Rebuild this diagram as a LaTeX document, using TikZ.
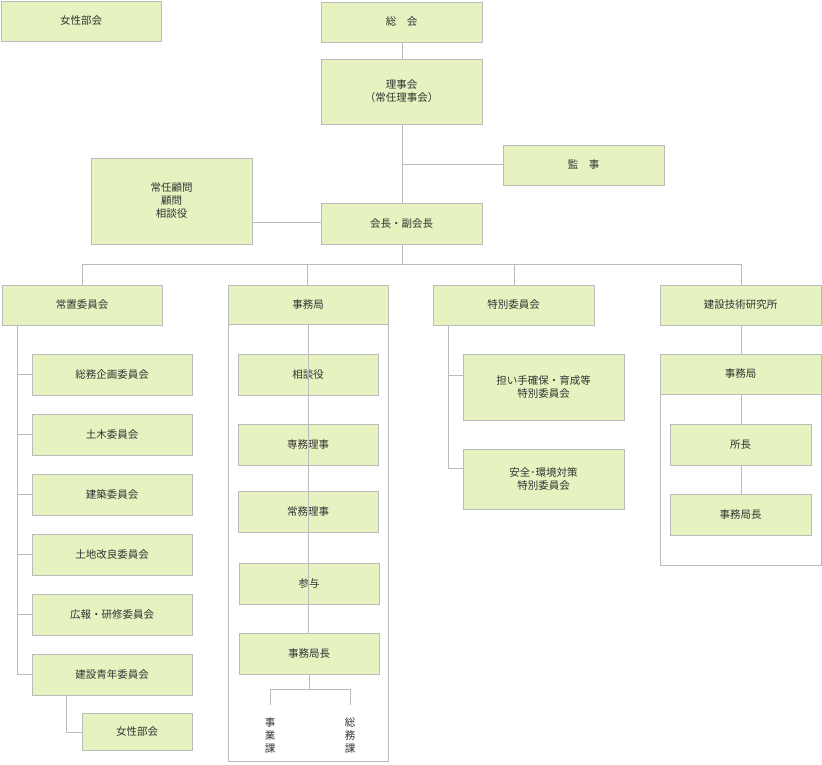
\documentclass[tikz,border=0pt]{standalone}
\usepackage{fontspec}
\newfontfamily\cjk{Noto Sans CJK JP}
\definecolor{BoxFill}{HTML}{E6F2C0}
\definecolor{LineGray}{HTML}{BBBBBB}
\begin{document}
\begin{tikzpicture}[x=1pt,y=-1pt,
  every node/.style={font=\cjk\fontsize{10.5}{13}\selectfont, text=black!80, align=center},
  unit/.style={draw=LineGray, fill=BoxFill, line width=0.8pt},
  frame/.style={draw=LineGray, line width=0.8pt},
  link/.style={draw=LineGray, line width=0.8pt}]
\useasboundingbox (0,0) rectangle (822,765);
% box macro: name, x1, y1, x2, y2, text
\newcommand\orgbox[6]{%
  \filldraw[unit] (#2,#3) rectangle (#4,#5);
  \node (#1) at ({(#2+#4)/2},{(#3+#5)/2}) {#6};}
% frames
\draw[frame] (228,285) rectangle (388,761);
\draw[frame] (660,354) rectangle (821,565);
% top level
\orgbox{women}{1}{1}{161}{41}{女性部会}
\orgbox{general}{321}{2}{482}{42}{総\quad 会}
\orgbox{board}{321}{59}{482}{124}{理事会\\（常任理事会）}
\orgbox{audit}{503}{145}{664}{185}{監\quad 事}
\orgbox{advisor}{91}{158}{252}{244}{常任顧問\\顧問\\相談役}
\orgbox{chair}{321}{203}{482}{244}{会長・副会長}
\orgbox{standing}{2}{285}{162}{325}{常置委員会}
\orgbox{office}{228}{285}{388}{324}{事務局}
\orgbox{special}{433}{285}{594}{325}{特別委員会}
\orgbox{institute}{660}{285}{821}{325}{建設技術研究所}
% standing committees
\foreach \y/\name/\label in {354/c1/総務企画委員会, 414/c2/土木委員会, 474/c3/建築委員会,
    534/c4/土地改良委員会, 594/c5/広報・研修委員会, 654/c6/建設青年委員会} {
  \orgbox{\name}{32}{\y}{192}{\y+41}{\label}
  \draw[link] (17,\y+20.5) -- (32,\y+20.5);
}
\orgbox{c7}{82}{713}{192}{750}{女性部会}
\draw[link] (17,325) -- (17,675);
\draw[link] (66,695) |- (82,732);
% office
\orgbox{o1}{238}{354}{378}{395}{相談役}
\orgbox{o2}{238}{424}{378}{465}{専務理事}
\orgbox{o3}{238}{491}{378}{532}{常務理事}
\orgbox{o4}{239}{563}{379}{604}{参与}
\orgbox{o5}{239}{633}{379}{674}{事務局長}
\draw[link] (308,324) -- (308,633);
\draw[link] (309,674) -- (309,689);
\draw[link] (270,705) |- (350,689) -- (350,705);
\node (biz) at (270,735) {事\\業\\課};
\node (gen) at (350,735) {総\\務\\課};
% special committees
\orgbox{s1}{463}{354}{624}{420}{担い手確保・育成等\\特別委員会}
\orgbox{s2}{463}{449}{624}{509}{安全･環境対策\\特別委員会}
\draw[link] (448,325) |- (463,468);
\draw[link] (448,375) -- (463,375);
% institute
\orgbox{i0}{660}{354}{821}{394}{事務局}
\orgbox{i1}{670}{424}{811}{465}{所長}
\orgbox{i2}{670}{494}{811}{535}{事務局長}
\draw[link] (741,325) -- (741,354);
\draw[link] (741,394) -- (741,424);
\draw[link] (741,465) -- (741,494);
% top connections
\draw[link] (402,42) -- (402,59);
\draw[link] (402,124) -- (402,203);
\draw[link] (402,164) -- (503,164);
\draw[link] (252,222) -- (321,222);
\draw[link] (402,244) -- (402,264);
\draw[link] (82,285) |- (741,264) -- (741,285);
\draw[link] (307,264) -- (307,285);
\draw[link] (514,264) -- (514,285);
\end{tikzpicture}
\end{document}
